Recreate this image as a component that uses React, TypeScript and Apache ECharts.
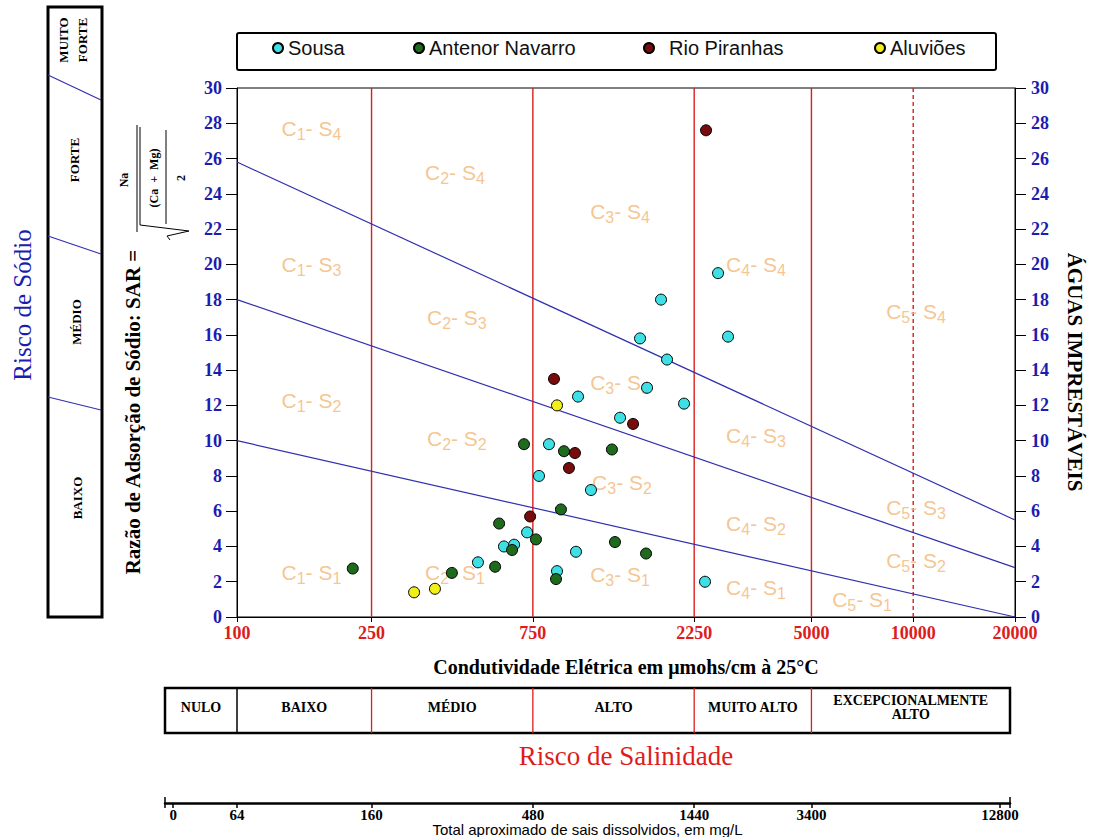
import React, { useEffect, useRef } from "react";
import * as echarts from "echarts";

// ---------- data ----------
const condTicks = [100, 250, 750, 2250, 5000, 10000, 20000];
const solidBoundaries = [250, 750, 2250, 5000];
const dashedBoundaries = [10000];
const sarRange = [0, 30];
const sodiumLine1 = [[100, 10], [20000, 0]];
const sodiumLine2 = [[100, 18], [20000, 2.8]];
const sodiumLine3 = [[100, 25.8], [20000, 5.5]];

const sousa = [
  [516, 3.1], [616, 4.0], [660, 4.1], [721, 4.8], [782, 8.0], [837, 9.8],
  [884, 2.6], [1006, 3.7], [1020, 12.5], [1114, 7.2], [1358, 11.3], [1556, 15.8],
  [1632, 13.0], [1795, 18.0], [1870, 14.6], [2100, 12.1], [2422, 2.0], [2647, 19.5],
  [2833, 15.9],
];
const antenorNavarro = [
  [220, 2.75], [432, 2.5], [580, 2.85], [596, 5.3], [651, 3.8], [766, 4.4],
  [706, 9.8], [927, 9.4], [1285, 9.5], [908, 6.1], [878, 2.15], [1312, 4.25],
  [1621, 3.6],
];
const rioPiranhas = [
  [866, 13.5], [959, 8.45], [999, 9.3], [736, 5.7], [1484, 10.95], [2439, 27.6],
];
const aluvioes = [[334, 1.4], [385, 1.6], [884, 12.0]];

// class labels: [conductivity, SAR, C index, S index]
const classLabels = [
  [166, 27.7, 1, 4], [441, 25.2, 2, 4], [1358, 23.0, 3, 4], [3428, 20.0, 4, 4], [10193, 17.3, 5, 4],
  [166, 20.0, 1, 3], [447, 17.0, 2, 3], [1358, 13.3, 3, 3], [3428, 10.3, 4, 3], [10193, 6.2, 5, 3],
  [166, 12.3, 1, 2], [447, 10.15, 2, 2], [1376, 7.6, 3, 2], [3428, 5.3, 4, 2], [10193, 3.2, 5, 2],
  [166, 2.55, 1, 1], [441, 2.55, 2, 1], [1358, 2.4, 3, 1], [3428, 1.7, 4, 1], [7057, 1.0, 5, 1],
];

const tdsLabels = ["0", "64", "160", "480", "1440", "3400", "12800"];
const tdsAtCond = [64.7, 100, 250, 750, 2250, 5000, 18060];
const tdsAxisRange = [61.2, 19330];

const salinityClasses = ["NULO", "BAIXO", "MÉDIO", "ALTO", "MUITO ALTO", "EXCEPCIONALMENTE\nALTO"];
const salinityDividers = [100, 250, 750, 2250, 5000];
const sodiumClasses = ["MUITO\nFORTE", "FORTE", "MÉDIO", "BAIXO"];

const LOG = (v: number) => Math.log10(v);
const serif = "'Liberation Serif', 'Times New Roman', serif";
const sans = "'Liberation Sans', Arial, sans-serif";
const BLUE = "#1c1cb0";
const RED = "#dd1c1c";
const ORANGE = "#f3b674";
const LINEBLUE = "#3030b0";

function findLabel(v: number, values: number[], labels: string[]) {
  let best = 0;
  let bd = Infinity;
  values.forEach((c, i) => {
    const d = Math.abs(LOG(c) - v);
    if (d < bd) { bd = d; best = i; }
  });
  return labels[best];
}

function buildOption(): any {
  const toXY = (arr: number[][]) => arr.map(([c, s]) => [LOG(c), s]);
  const scatter = (name: string, data: number[][], color: string) => ({
    name,
    type: "scatter",
    xAxisIndex: 0,
    yAxisIndex: 0,
    data: toXY(data),
    symbol: "circle",
    symbolSize: 11,
    itemStyle: { color, borderColor: "#000", borderWidth: 1, opacity: 1 },
    z: 5,
  });
  const legendItem = (name: string, left: number, extra: any = {}) => ({
    data: [name],
    left,
    top: 38,
    padding: 0,
    itemWidth: 10,
    itemHeight: 10,
    selectedMode: false,
    textStyle: { fontSize: 20, fontFamily: sans, color: "#111", ...extra },
  });
  const plainLine = (d: number[][], color: string, width: number, type: any, z: number) => ({
    type: "line",
    xAxisIndex: 0,
    yAxisIndex: 0,
    data: toXY(d),
    symbol: "none",
    silent: true,
    lineStyle: { color, width, type },
    itemStyle: { color },
    z,
  });
  const condCustom = condTicks.map(LOG);
  const tdsCustom = tdsAtCond.map(LOG);

  return {
    animation: false,
    backgroundColor: "#fff",
    grid: [
      { left: 237, right: 78, top: 88, bottom: 220, show: true, borderColor: "#000", borderWidth: 1, outerBoundsMode: "none" },
      { left: 165, right: 83, top: 802, height: 1, outerBoundsMode: "none" },
    ],
    legend: [
      legendItem("Sousa", 272),
      legendItem("Antenor Navarro", 413),
      legendItem("Rio Piranhas", 643, { padding: [0, 0, 0, 10] }),
      legendItem("Aluviões", 874),
    ],
    xAxis: [
      {
        type: "value",
        gridIndex: 0,
        min: 2,
        max: LOG(20000),
        splitLine: { show: false },
        axisLine: { lineStyle: { color: "#000", width: 1 } },
        axisTick: { customValues: condCustom, length: 5, lineStyle: { color: "#000" } },
        axisLabel: {
          customValues: condCustom,
          formatter: (v: number) => findLabel(v, condTicks, condTicks.map(String)),
          color: RED,
          fontWeight: "bold",
          fontFamily: serif,
          fontSize: 18,
          margin: 7,
          showMinLabel: true,
          showMaxLabel: true,
        },
        name: "Condutividade Elétrica em μmohs/cm à 25°C",
        nameLocation: "middle",
        nameGap: 40,
        nameMoveOverlap: false,
        nameTextStyle: { fontFamily: serif, fontWeight: "bold", fontSize: 20, color: "#000" },
      },
      {
        type: "value",
        gridIndex: 1,
        min: LOG(tdsAxisRange[0]),
        max: LOG(tdsAxisRange[1]),
        splitLine: { show: false },
        axisLine: { lineStyle: { color: "#000", width: 2.5 } },
        axisTick: { customValues: tdsCustom, length: 5, lineStyle: { color: "#000", width: 1.5 } },
        axisLabel: {
          customValues: tdsCustom,
          formatter: (v: number) => findLabel(v, tdsAtCond, tdsLabels),
          color: "#000",
          fontWeight: "bold",
          fontFamily: serif,
          fontSize: 15,
          margin: 4,
          showMinLabel: true,
          showMaxLabel: true,
        },
        name: "Total aproximado de sais dissolvidos, em mg/L",
        nameLocation: "middle",
        nameGap: 19,
        nameMoveOverlap: false,
        nameTextStyle: { fontFamily: sans, fontSize: 15, color: "#000", lineHeight: 15 },
      },
    ],
    yAxis: [
      {
        type: "value",
        gridIndex: 0,
        position: "left",
        min: sarRange[0],
        max: sarRange[1],
        interval: 2,
        splitLine: { show: false },
        axisLine: { lineStyle: { color: "#000" } },
        axisTick: { length: 11, lineStyle: { color: "#000" } },
        axisLabel: { color: BLUE, fontWeight: "bold", fontFamily: serif, fontSize: 18, margin: 15 },
      },
      {
        type: "value",
        gridIndex: 0,
        position: "right",
        min: sarRange[0],
        max: sarRange[1],
        interval: 2,
        splitLine: { show: false },
        axisLine: { lineStyle: { color: "#000" } },
        axisTick: { length: 11, lineStyle: { color: "#000" } },
        axisLabel: { color: BLUE, fontWeight: "bold", fontFamily: serif, fontSize: 18, margin: 16 },
      },
      { type: "value", gridIndex: 1, show: false, min: 0, max: 1 },
    ],
    series: [
      ...solidBoundaries.map((c) => plainLine([[c, sarRange[0]], [c, sarRange[1]]], RED, 1.4, "solid", 1)),
      ...dashedBoundaries.map((c) => plainLine([[c, sarRange[0]], [c, sarRange[1]]], RED, 1.4, [4, 3], 1)),
      plainLine(sodiumLine1, LINEBLUE, 1.2, "solid", 3),
      plainLine(sodiumLine2, LINEBLUE, 1.2, "solid", 3),
      plainLine(sodiumLine3, LINEBLUE, 1.2, "solid", 3),
      {
        type: "scatter",
        xAxisIndex: 0,
        yAxisIndex: 0,
        silent: true,
        symbolSize: 0,
        z: 2,
        data: classLabels.map(([c, s, ci, si]) => ({
          value: [LOG(c), s],
          label: { formatter: `{c|C}{s|${ci}}{c|- S}{s|${si}}` },
        })),
        label: {
          show: true,
          position: "inside",
          rich: {
            c: { fontSize: 21, color: ORANGE, fontFamily: sans },
            s: { fontSize: 16, color: ORANGE, fontFamily: sans, padding: [12, 0, 0, 0] },
          },
        },
      },
      scatter("Sousa", sousa, "#3ee0e6"),
      scatter("Antenor Navarro", antenorNavarro, "#1e6b1e"),
      scatter("Rio Piranhas", rioPiranhas, "#780c0c"),
      scatter("Aluviões", aluvioes, "#f2ee1a"),
    ],
  };
}

function text(x: number, y: number, t: string, o: any = {}) {
  const { rotation, ...style } = o;
  return {
    type: "text",
    x,
    y,
    rotation: rotation || 0,
    silent: true,
    style: {
      text: t,
      fill: "#000",
      fontFamily: serif,
      fontWeight: "bold",
      fontSize: 12,
      align: "center",
      verticalAlign: "middle",
      textAlign: "center",
      textVerticalAlign: "middle",
      ...style,
    },
  };
}
function line(x1: number, y1: number, x2: number, y2: number, stroke = "#000", lineWidth = 1) {
  return { type: "line", silent: true, shape: { x1, y1, x2, y2 }, style: { stroke, lineWidth } };
}

function buildGraphic(chart: any): any[] {
  const px0 = (c: number) => chart.convertToPixel({ xAxisIndex: 0 }, LOG(c)) as number;
  const px1 = (c: number) => chart.convertToPixel({ xAxisIndex: 1 }, LOG(c)) as number;
  const els: any[] = [];

  // legend frame
  els.push({ type: "rect", silent: true, shape: { x: 237, y: 33, width: 759, height: 37, r: 2 }, style: { fill: "none", stroke: "#000", lineWidth: 2 } });

  // sodium risk box
  els.push({ type: "rect", silent: true, shape: { x: 48, y: 7, width: 54, height: 610 }, style: { fill: "none", stroke: "#000", lineWidth: 3 } });
  els.push(line(48, 75, 101, 100, LINEBLUE, 1.2));
  els.push(line(48, 236, 101, 254, LINEBLUE, 1.2));
  els.push(line(48, 397, 101, 410, LINEBLUE, 1.2));
  const sodiumPos = [[73, 40], [74, 160], [76, 322], [77, 498]];
  sodiumClasses.forEach((t, i) => {
    els.push(text(sodiumPos[i][0], sodiumPos[i][1], t, { rotation: Math.PI / 2, fontSize: 13, lineHeight: 19 }));
  });
  els.push(text(22, 305, "Risco de Sódio", { rotation: Math.PI / 2, fontSize: 25, fontWeight: "normal", fill: BLUE }));

  // SAR formula (rotated group)
  const fs = { fontSize: 12 };
  els.push({
    type: "group",
    x: 137,
    y: 617,
    rotation: Math.PI / 2,
    children: [
      text(205, -4, "Razão de Adsorção de Sódio: SAR =", { fontSize: 21 }),
      text(437, -13, "Na", fs),
      line(385, 0, 492, 0, "#000", 1),
      { type: "polyline", silent: true, shape: { points: [[377, 33], [381, 30], [386, 52], [392, 3], [490, 3]] }, style: { stroke: "#000", fill: "none", lineWidth: 1 } },
      text(439, 17, "(Ca  +  Mg)", fs),
      line(393, 29, 487, 29, "#000", 1),
      text(439, 44, "2", fs),
    ],
  });

  // right label
  els.push(text(1075, 372, "ÁGUAS IMPRESTÁVEIS", { rotation: -Math.PI / 2, fontSize: 21 }));

  // salinity table
  const left = px1(tdsAxisRange[0]);
  const right = px1(tdsAxisRange[1]);
  const divs = salinityDividers.map(px0);
  const edges = [left, ...divs, right];
  els.push({ type: "rect", silent: true, shape: { x: left, y: 688, width: right - left, height: 45 }, style: { fill: "none", stroke: "#000", lineWidth: 2.5 } });
  divs.forEach((x, i) => els.push(line(x, 688, x, 733, i === 0 ? "#000" : RED, i === 0 ? 1.5 : 1.3)));
  salinityClasses.forEach((t, i) => {
    els.push(text((edges[i] + edges[i + 1]) / 2, 707, t, { fontSize: 14, lineHeight: 14 }));
  });
  els.push(text((px0(100) + px0(20000)) / 2, 756, "Risco de Salinidade", { fontSize: 27, fontWeight: "normal", fill: RED }));

  // end marks of TDS axis
  els.push(line(left, 797, left, 808, "#000", 1.5));
  els.push(line(right, 797, right, 808, "#000", 1.5));

  return els;
}

export default function App() {
  const ref = useRef<HTMLDivElement>(null);
  useEffect(() => {
    const chart = echarts.init(ref.current as HTMLDivElement, null, { renderer: "svg" });
    chart.setOption(buildOption());
    chart.setOption({ graphic: { elements: buildGraphic(chart) } });
    return () => chart.dispose();
  }, []);
  return (
    <div
      ref={ref}
      style={{ position: "fixed", left: 0, top: 0, width: 1093, height: 837, background: "#fff" }}
    />
  );
}
